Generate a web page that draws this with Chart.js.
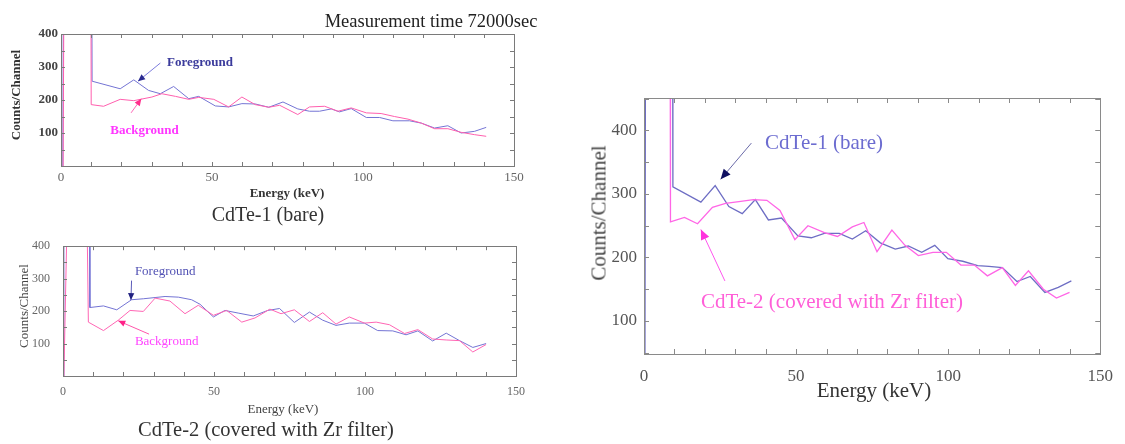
<!DOCTYPE html>
<html>
<head>
<meta charset="utf-8">
<script src="https://cdn.jsdelivr.net/npm/chart.js@4/dist/chart.umd.min.js"></script>
<style>
  body { margin: 0; background: #fff; width: 1125px; height: 444px; position: relative; overflow: hidden; }
  .box { position: absolute; }
  .txt { position: absolute; white-space: nowrap; font-family: "Liberation Serif", serif; transform: translate(-50%, -50%); }
  .vert { transform: translate(-50%, -50%) rotate(-90deg); }
</style>
</head>
<body>
<div class="box" style="left:0;top:0;width:540px;height:222px"><canvas id="chart1"></canvas></div>
<div class="box" style="left:0;top:226px;width:540px;height:218px"><canvas id="chart2"></canvas></div>
<div class="box" style="left:560px;top:80px;width:565px;height:330px"><canvas id="chart3"></canvas></div>

<div class="txt" style="left:431px;top:21px;font-size:18.5px;color:#222">Measurement time 72000sec</div>

<div class="txt vert" style="left:16px;top:95px;font-size:13px;font-weight:bold;color:#333">Counts/Channel</div>
<div class="txt" style="left:287px;top:193px;font-size:13px;font-weight:bold;color:#333">Energy (keV)</div>
<div class="txt" style="left:268px;top:214px;font-size:20px;color:#333">CdTe-1 (bare)</div>

<div class="txt vert" style="left:24px;top:306px;font-size:13px;color:#444">Counts/Channel</div>
<div class="txt" style="left:283px;top:409px;font-size:13px;color:#444">Energy (keV)</div>
<div class="txt" style="left:266px;top:429px;font-size:20.5px;color:#333">CdTe-2 (covered with Zr filter)</div>

<div class="txt vert" style="left:599px;top:213px;font-size:21px;color:#444">Counts/Channel</div>
<div class="txt" style="left:874px;top:390px;font-size:21px;color:#333">Energy (keV)</div>

<script>
// Tick labels shared by all panels
const xTickLabels = [0, 50, 100, 150];
const yTickLabels = [100, 200, 300, 400];

// CdTe-1 (bare): foreground / background, energy (keV) and counts/channel
const det1FgEnergy = [0.6, 0.8, 10.2, 10.3, 19.6, 24.1, 29.0, 32.9, 37.3, 42.3, 45.6, 51.1, 55.5, 59.9, 64.3, 68.8, 73.5, 78.4, 82.3, 85.6, 89.5, 92.2, 96.1, 101.1, 105.5, 109.9, 115.4, 119.3, 123.7, 128.1, 132.5, 136.9, 140.8];
const det1FgCounts = [0, 600, 600, 257, 234, 261, 229, 219, 241, 204, 211, 182, 179, 189, 188, 178, 194, 173, 166, 166, 173, 164, 174, 147, 147, 137, 137, 130, 115, 122, 100, 105, 117];
const det1BgEnergy = [0.7, 1.0, 9.9, 10.0, 14.1, 19.6, 24.1, 30.1, 33.4, 37.9, 42.3, 45.6, 50.6, 55.5, 59.9, 64.3, 68.8, 72.4, 78.4, 82.3, 87.3, 91.7, 96.1, 101.1, 106.0, 110.4, 114.9, 119.3, 123.7, 128.1, 132.5, 136.9, 140.8];
const det1BgCounts = [0, 600, 600, 186, 181, 202, 198, 209, 219, 211, 202, 208, 202, 179, 209, 186, 178, 184, 156, 179, 181, 166, 176, 161, 159, 150, 142, 130, 113, 113, 102, 95, 90];

// CdTe-2 (covered with Zr filter)
const det2FgEnergy = [0.1, 0.3, 8.8, 8.9, 13.4, 17.8, 22.7, 26.6, 33.8, 38.2, 42.6, 45.4, 49.8, 53.6, 58.0, 63.0, 67.8, 71.7, 76.6, 81.6, 86.0, 90.4, 94.8, 99.8, 104.2, 109.2, 113.6, 117.5, 122.4, 126.9, 131.3, 135.7, 140.1];
const det2FgCounts = [0, 600, 600, 211, 216, 204, 235, 238, 245, 243, 235, 221, 182, 202, 194, 185, 202, 208, 165, 197, 172, 156, 163, 163, 140, 139, 127, 139, 108, 132, 109, 88, 100];
const det2BgEnergy = [0.3, 1.6, 7.8, 8.4, 13.4, 18.3, 22.2, 26.6, 30.5, 35.4, 40.4, 44.8, 49.8, 54.2, 59.2, 63.6, 68.5, 72.2, 76.6, 81.6, 86.0, 90.4, 94.8, 99.8, 103.7, 108.1, 113.1, 117.5, 122.4, 126.9, 131.3, 135.7, 140.1];
const det2BgCounts = [0, 600, 600, 166, 140, 172, 202, 199, 240, 231, 192, 218, 187, 202, 166, 179, 206, 192, 204, 168, 195, 160, 182, 163, 166, 158, 131, 143, 114, 111, 109, 74, 97];

// Comparison: CdTe-1 vs CdTe-2
const cmp1Energy = [0.3, 0.5, 9.4, 9.5, 18.7, 23.4, 27.9, 32.3, 36.6, 40.9, 45.2, 50.6, 55.0, 59.3, 64.2, 68.5, 72.9, 77.7, 82.6, 86.9, 91.3, 95.6, 99.9, 104.8, 109.7, 113.4, 117.8, 122.6, 127.0, 131.8, 136.2, 140.5];
const cmp1Counts = [0, 600, 600, 311, 287, 313, 280, 269, 291, 259, 262, 234, 231, 238, 238, 229, 242, 223, 213, 218, 208, 219, 198, 194, 187, 186, 184, 162, 170, 145, 153, 163];
const cmp2Energy = [0.0, 0.1, 8.6, 8.7, 13.3, 17.6, 22.5, 26.8, 31.2, 36.0, 40.4, 44.7, 49.6, 53.9, 59.3, 63.6, 68.5, 72.3, 76.6, 81.5, 85.8, 90.2, 95.0, 99.4, 104.2, 108.6, 112.9, 117.8, 122.1, 126.4, 131.3, 135.6, 139.9];
const cmp2Counts = [0, 600, 600, 256, 263, 253, 279, 285, 288, 291, 290, 274, 228, 250, 239, 233, 248, 255, 209, 243, 219, 203, 208, 208, 188, 188, 171, 184, 156, 179, 150, 136, 145];

// Annotation labels, anchored in data units [energy, counts]
const det1Notes = ['Foreground', 'Background'];
const det1NoteAt = [[35.1, 312], [16.3, 107]];
const det1NoteArrows = [[32.9, 312, 25.5, 257], [23.2, 161, 26.6, 204]];
const det2Notes = ['Foreground', 'Background'];
const det2NoteAt = [[23.8, 323], [23.8, 105]];
const det2NoteArrows = [[22.7, 294, 22.5, 234], [28.5, 129, 18.3, 170]];
const cmpNotes = ['CdTe-1 (bare)', 'CdTe-2 (covered with Zr filter)'];
const cmpNoteAt = [[39.8, 380], [18.7, 129]];
const cmpNoteArrows = [[35.3, 380, 25.2, 323], [26.6, 163, 18.7, 244]];

const serif = '"Liberation Serif", serif';

function points(xs, ys) {
    return xs.map((x, i) => ({ x: x, y: ys[i] }));
}

// Frame with inward ticks plus arrow annotations
const framePlugin = {
    id: 'frame',
    afterDatasetsDraw(chart, args, opts) {
        const { ctx, chartArea: a } = chart;
        const x = chart.scales.x, y = chart.scales.y;
        ctx.save();
        ctx.strokeStyle = opts.color;
        ctx.lineWidth = 1;
        ctx.strokeRect(Math.round(a.left) + 0.5, Math.round(a.top) + 0.5,
            Math.round(a.right - a.left), Math.round(a.bottom - a.top));
        ctx.beginPath();
        for (let v = 10; v < x.max; v += 10) {
            const px = Math.round(x.getPixelForValue(v)) + 0.5;
            ctx.moveTo(px, a.top); ctx.lineTo(px, a.top + opts.len);
            ctx.moveTo(px, a.bottom); ctx.lineTo(px, a.bottom - opts.len);
        }
        for (let v = 50; v < y.max; v += 50) {
            if (v <= y.min) continue;
            const py = Math.round(y.getPixelForValue(v)) + 0.5;
            ctx.moveTo(a.left, py); ctx.lineTo(a.left + opts.len, py);
            ctx.moveTo(a.right, py); ctx.lineTo(a.right - opts.len, py);
        }
        ctx.stroke();

        opts.notes.forEach((text, i) => {
            const st = opts.noteStyle[i];
            const at = opts.noteAt[i];
            ctx.font = st.font;
            ctx.fillStyle = st.textColor;
            ctx.textAlign = 'left';
            ctx.textBaseline = 'middle';
            ctx.fillText(text, x.getPixelForValue(at[0]), y.getPixelForValue(at[1]));

            const ar = opts.arrows[i];
            const x1 = x.getPixelForValue(ar[0]), y1 = y.getPixelForValue(ar[1]);
            const x2 = x.getPixelForValue(ar[2]), y2 = y.getPixelForValue(ar[3]);
            ctx.strokeStyle = st.lineColor;
            ctx.lineWidth = 1;
            ctx.beginPath();
            ctx.moveTo(x1, y1); ctx.lineTo(x2, y2);
            ctx.stroke();
            const ang = Math.atan2(y2 - y1, x2 - x1);
            const hl = opts.head, hw = opts.head * 0.45;
            ctx.fillStyle = st.headColor;
            ctx.beginPath();
            ctx.moveTo(x2, y2);
            ctx.lineTo(x2 - hl * Math.cos(ang) + hw * Math.sin(ang), y2 - hl * Math.sin(ang) - hw * Math.cos(ang));
            ctx.lineTo(x2 - hl * Math.cos(ang) - hw * Math.sin(ang), y2 - hl * Math.sin(ang) + hw * Math.cos(ang));
            ctx.closePath();
            ctx.fill();
        });
        ctx.restore();
    }
};

function makeChart(id, cfg) {
    const ctx = document.getElementById(id).getContext('2d');
    return new Chart(ctx, {
        type: 'line',
        data: {
            datasets: cfg.series.map((s) => ({
                data: s.data,
                borderColor: s.color,
                borderWidth: cfg.lineWidth,
                pointRadius: 0,
                fill: false,
                tension: 0,
            })),
        },
        options: {
            responsive: true,
            maintainAspectRatio: false,
            animation: false,
            events: [],
            layout: { padding: { top: cfg.padTop, right: cfg.padRight, left: 0, bottom: 0 } },
            scales: {
                x: {
                    type: 'linear',
                    min: 0,
                    max: 150,
                    grid: { display: false, drawTicks: false, tickLength: 0 },
                    border: { display: false },
                    afterBuildTicks: (s) => { s.ticks = xTickLabels.map((v) => ({ value: v })); },
                    afterFit: (s) => { s.height = cfg.xHeight; },
                    ticks: {
                        padding: cfg.xPad,
                        maxRotation: 0,
                        autoSkip: false,
                        color: cfg.xColor,
                        font: { family: serif, size: cfg.xFont, weight: 'normal' },
                    },
                },
                y: {
                    type: 'linear',
                    min: cfg.yMin,
                    max: cfg.yMax,
                    grid: { display: false, drawTicks: false, tickLength: 0 },
                    border: { display: false },
                    afterBuildTicks: (s) => { s.ticks = yTickLabels.map((v) => ({ value: v })); },
                    afterFit: (s) => { s.width = cfg.yWidth; },
                    ticks: {
                        padding: cfg.yPad,
                        color: cfg.yColor,
                        font: { family: serif, size: cfg.yFont, weight: cfg.yWeight },
                    },
                },
            },
            plugins: {
                legend: { display: false },
                tooltip: { enabled: false },
                frame: cfg.frame,
            },
        },
        plugins: [framePlugin],
    });
}

// Top-left: CdTe-1 (bare)
makeChart('chart1', {
    series: [
        { data: points(det1BgEnergy, det1BgCounts), color: '#ff5fae' },
        { data: points(det1FgEnergy, det1FgCounts), color: '#7474d4' },
    ],
    lineWidth: 1,
    padTop: 34, padRight: 26, xHeight: 56, yWidth: 61,
    yMin: 0, yMax: 400,
    xPad: 4, xFont: 13, xColor: '#666',
    yPad: 3, yFont: 13, yWeight: 'bold', yColor: '#444',
    frame: {
        color: '#7a7a7a', len: 4, head: 7,
        notes: det1Notes, noteAt: det1NoteAt, arrows: det1NoteArrows,
        noteStyle: [
            { font: 'bold 13px ' + serif, textColor: '#3b3b9c', lineColor: '#7c7cdc', headColor: '#2a2a90' },
            { font: 'bold 13px ' + serif, textColor: '#ff36ff', lineColor: '#ff6ab8', headColor: '#ff2e8c' },
        ],
    },
});

// Bottom-left: CdTe-2 (covered with Zr filter)
makeChart('chart2', {
    series: [
        { data: points(det2BgEnergy, det2BgCounts), color: '#ff66b4' },
        { data: points(det2FgEnergy, det2FgCounts), color: '#7474d4' },
    ],
    lineWidth: 1,
    padTop: 12, padRight: 24, xHeight: 68, yWidth: 63,
    yMin: 0, yMax: 400,
    xPad: 9, xFont: 12, xColor: '#666',
    yPad: 13, yFont: 12, yWeight: 'normal', yColor: '#666',
    frame: {
        color: '#7a7a7a', len: 4, head: 7,
        notes: det2Notes, noteAt: det2NoteAt, arrows: det2NoteArrows,
        noteStyle: [
            { font: '13px ' + serif, textColor: '#5252b4', lineColor: '#5a5ab8', headColor: '#202080' },
            { font: '13px ' + serif, textColor: '#ff44ff', lineColor: '#ff55aa', headColor: '#ff2288' },
        ],
    },
});

// Right: comparison of the two detectors
makeChart('chart3', {
    series: [
        { data: points(cmp2Energy, cmp2Counts), color: '#ff66e6' },
        { data: points(cmp1Energy, cmp1Counts), color: '#6e6ec4' },
    ],
    lineWidth: 1.3,
    padTop: 18, padRight: 19, xHeight: 56, yWidth: 84,
    yMin: 48, yMax: 451,
    xPad: 12, xFont: 17, xColor: '#555',
    yPad: 7, yFont: 17, yWeight: 'normal', yColor: '#555',
    frame: {
        color: '#8a8a8a', len: 5, head: 10,
        notes: cmpNotes, noteAt: cmpNoteAt, arrows: cmpNoteArrows,
        noteStyle: [
            { font: '21px ' + serif, textColor: '#6c6cd0', lineColor: '#6a6aa8', headColor: '#101060' },
            { font: '21px ' + serif, textColor: '#ff5fd8', lineColor: '#ff55ee', headColor: '#ff33dd' },
        ],
    },
});
</script>
</body>
</html>
